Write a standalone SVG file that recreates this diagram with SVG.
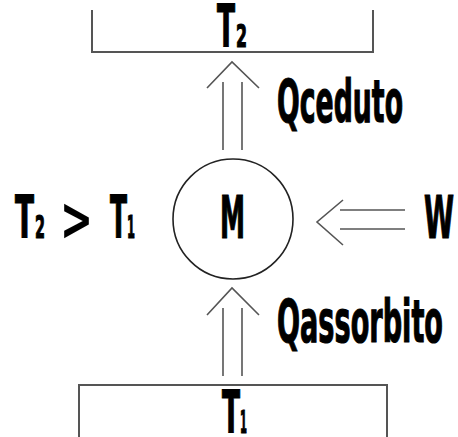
<svg xmlns="http://www.w3.org/2000/svg" width="458" height="437" viewBox="0 0 458 437">
<style>
.t{font-family:"Liberation Sans Narrow","DejaVu Sans Condensed","Liberation Sans",sans-serif;font-weight:bold;fill:#000;stroke:#000;stroke-width:1.2}
.big{font-size:58px}
.sub{font-size:32px}
.box{fill:none;stroke:#555;stroke-width:2}
.arr{fill:none;stroke:#555;stroke-width:1.6}
</style>
<rect width="458" height="437" fill="#fff"/>
<g id="T2box">
<polyline class="box" points="92,10 92,52 373,52 373,10"/>
<text class="t big" x="217" y="47" textLength="18" lengthAdjust="spacingAndGlyphs">T</text>
<text class="t sub" x="236" y="47" textLength="11" lengthAdjust="spacingAndGlyphs">2</text>
</g>
<g id="T1box">
<polyline class="box" points="79,440 79,385 387,385 387,440"/>
<text class="t big" x="222" y="433" textLength="18" lengthAdjust="spacingAndGlyphs">T</text>
<text class="t sub" x="240" y="433" textLength="7" lengthAdjust="spacingAndGlyphs">1</text>
</g>
<g id="M">
<circle cx="233" cy="219" r="60" fill="none" stroke="#222" stroke-width="1.6"/>
<text class="t big" x="220" y="238" textLength="25" lengthAdjust="spacingAndGlyphs">M</text>
</g>
<g id="cond">
<text class="t big" x="15" y="238" textLength="19" lengthAdjust="spacingAndGlyphs">T</text>
<text class="t sub" x="35" y="238" textLength="10" lengthAdjust="spacingAndGlyphs">2</text>
<text class="t" style="font-size:60px;stroke-width:0" x="60" y="240" textLength="33" lengthAdjust="spacingAndGlyphs">&gt;</text>
<text class="t big" x="110" y="238" textLength="17" lengthAdjust="spacingAndGlyphs">T</text>
<text class="t sub" x="127" y="238" textLength="8" lengthAdjust="spacingAndGlyphs">1</text>
</g>
<g id="W">
<text class="t big" x="424" y="238" textLength="30" lengthAdjust="spacingAndGlyphs">W</text>
</g>
<g id="labels">
<text class="t big" x="277" y="122" textLength="126" lengthAdjust="spacingAndGlyphs">Qceduto</text>
<text class="t big" x="277" y="342" textLength="166" lengthAdjust="spacingAndGlyphs">Qassorbito</text>
</g>
<g id="connectors">
<path class="arr" d="M223,150 V82 M242,150 V82 M207,88 L232,62 L259,88"/>
<path class="arr" d="M223,376 V308 M242,376 V308 M207,315 L232,288 L259,315"/>
<path class="arr" d="M405,210 H340 M405,229 H340 M343,200 L317,222 L343,245"/>
</g>
</svg>
